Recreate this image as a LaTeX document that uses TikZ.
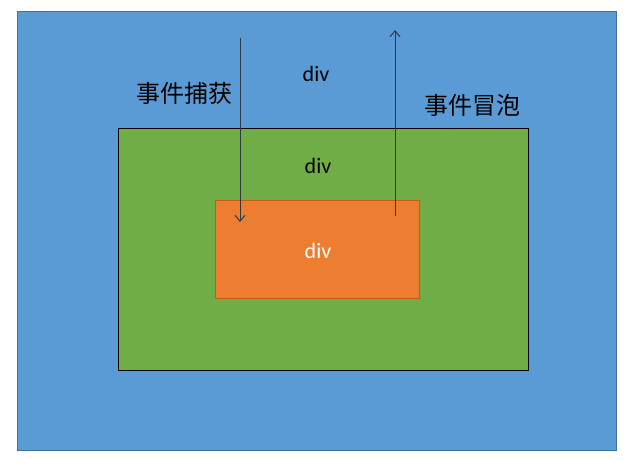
\documentclass[tikz,border=0pt]{standalone}
\usepackage{fontspec}
\setmainfont{Carlito}
\newfontfamily\cjk{Noto Sans CJK SC}
\usetikzlibrary{arrows.meta}
\definecolor{bluefill}{HTML}{5B9BD5}
\definecolor{blueline}{HTML}{41719C}
\definecolor{greenfill}{HTML}{70AD47}
\definecolor{orangefill}{HTML}{ED7D31}
\definecolor{orangeline}{HTML}{C55A11}
\definecolor{arrowcol}{HTML}{2F3A44}
\tikzset{
  box/.style={rectangle, inner sep=0pt, line width=1pt},
  divlabel/.style={font=\fontsize{22}{22}\selectfont, inner sep=0pt},
  cjklabel/.style={font=\cjk\fontsize{24}{24}\selectfont, inner sep=0pt},
  flow/.style={draw=arrowcol, line width=1pt, -{Straight Barb[length=6pt,width=10pt]}}
}
\begin{document}
\begin{tikzpicture}[x=1pt,y=-1pt]
\useasboundingbox (0,0) rectangle (640,470);
\fill[white] (0,0) rectangle (640,470);
\node[box, draw=blueline, fill=bluefill, minimum width=599pt, minimum height=438pt] (outer) at (316.5,231) {};
\node[box, draw=black, fill=greenfill, minimum width=410pt, minimum height=241pt] (middle) at (323,249.5) {};
\node[box, draw=orangeline, fill=orangefill, minimum width=204pt, minimum height=98pt] (inner) at (317,250) {};
\node[divlabel] (t1) at (316,74) {div};
\node[divlabel] (t2) at (318,166) {div};
\node[divlabel, text=white] (t3) at (318,251) {div};
\node[cjklabel] (cap) at (184,93) {事件捕获};
\node[cjklabel] (bub) at (472,105) {事件冒泡};
\coordinate (c1) at (240,38);
\coordinate (c2) at (240,222);
\coordinate (b1) at (395,216);
\coordinate (b2) at (395,30);
\draw[flow] (c1) -- (c2);
\draw[flow] (b1) -- (b2);
\end{tikzpicture}
\end{document}
